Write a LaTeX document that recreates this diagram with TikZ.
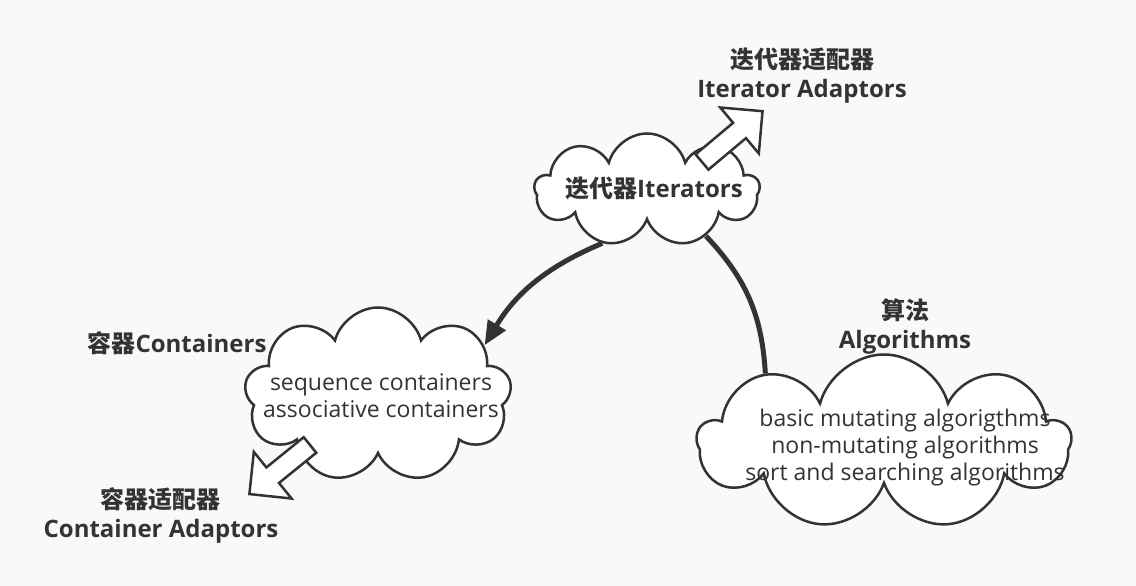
\documentclass[tikz,border=0pt]{standalone}
\usepackage{fontspec}
\setmainfont{Open Sans}
\newfontfamily\cjk{Noto Sans CJK SC}
\usetikzlibrary{shapes.symbols,arrows.meta}
\definecolor{ink}{HTML}{333333}
\definecolor{paper}{HTML}{F9F9F9}
\tikzset{
  cloudbox/.style={cloud, cloud puffs=9, cloud ignores aspect, draw=ink, line width=2.5pt, fill=white, inner sep=0pt},
  title/.style={font=\bfseries\fontsize{24}{29}\selectfont, text=ink, align=center},
  body/.style={font=\fontsize{23}{27}\selectfont, text=ink, align=center},
  link/.style={draw=ink, line width=5pt},
  hollow/.style={draw=ink, line width=2.5pt, fill=white, line join=miter}
}
\begin{document}
\begin{tikzpicture}[x=1pt,y=1pt]

% Page
\fill[paper] (0,0) rectangle (1136,586);
\useasboundingbox (0,0) rectangle (1136,586);

% Clouds
\node[cloudbox, minimum width=225pt, minimum height=113pt] (iter) at (647,396) {};
\node[cloudbox, minimum width=267pt, minimum height=175pt] (cont) at (378,191) {};
\node[cloudbox, minimum width=373pt, minimum height=175pt] (algo) at (884,144) {};

% Cloud texts
\node[title] (itertext) at (654,398) {{\cjk 迭代器}Iterators};
\node[body] (conttext) at (381,190) {sequence containers\\associative containers};
\node[body] (algotext) at (905,138) {basic mutating algorigthms\\non-mutating algorithms\\sort and searching algorithms};

% Labels
\node[title] (contlabel) at (177,243) {{\cjk 容器}Containers};
\node[title] (algolabel) at (905,259) {{\cjk 算法}\\Algorithms};
\node[title] (iteradapt) at (802,510) {{\cjk 迭代器适配器}\\Iterator Adaptors};
\node[title] (contadapt) at (161,71) {{\cjk 容器适配器}\\Container Adaptors};

% Links
\draw[link, -{Triangle[length=24pt,width=20pt]}] (iter.230) to[bend right=18] (cont.25);
\draw[link] (iter.322) to[bend left=20] (algo.150);

% Adaptor arrows
\draw[hollow, shift={(702,424)}, rotate=40] (0,-10) -- (49,-10) -- (49,-30) -- (79,0) -- (49,30) -- (49,10) -- (0,10) -- cycle;
\draw[hollow, shift={(310,141)}, rotate=219] (0,-10) -- (48,-10) -- (48,-30) -- (78,0) -- (48,30) -- (48,10) -- (0,10) -- cycle;

\end{tikzpicture}
\end{document}
